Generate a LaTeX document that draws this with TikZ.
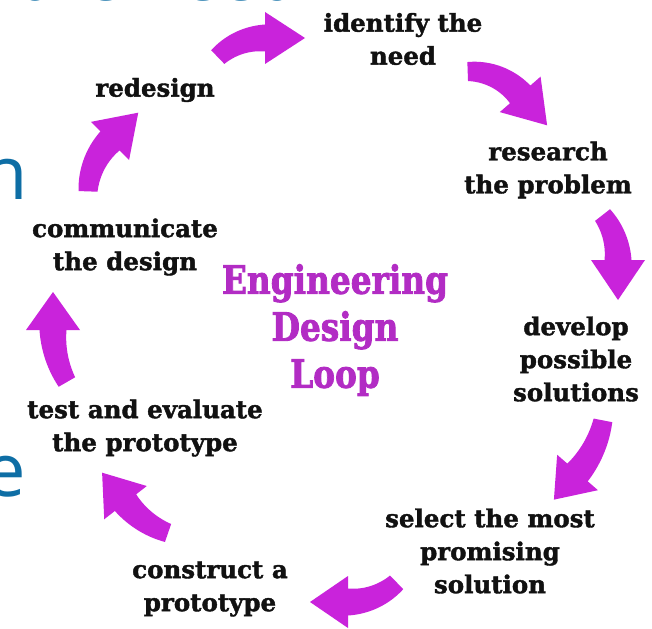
\documentclass[tikz,border=0pt]{standalone}
\usepackage{fontspec}
\setmainfont{DejaVu Serif}
\newfontfamily\slidefont{Open Sans}
\newfontfamily\steplabelfont{DejaVu Serif Bold}[FakeBold=1.6]
\newfontfamily\looptitlefont{DejaVu Serif Bold}[FakeBold=2.2]

\definecolor{loopmagenta}{HTML}{C923DB}
\definecolor{titlemagenta}{HTML}{B22CC4}
\definecolor{labelblack}{HTML}{111111}
\definecolor{slideblue}{HTML}{0E6EA5}

% tail and head-end widths of the curved arrow bodies
\def\wtail{19}
\def\whead{27}

% curved block arrow running clockwise round centre (#1,#2):
% radius #3, from angle #4 to angle #5, head length #6, head half-width #7
\newcommand{\loopArrow}[7]{%
  \fill[loopfill]
    plot[domain=#4:#5, samples=24]
      ({#1+(#3+(\wtail+(\whead-\wtail)*((#4)-(\x))/((#4)-(#5)))/2)*cos(\x)},
       {#2+(#3+(\wtail+(\whead-\wtail)*((#4)-(\x))/((#4)-(#5)))/2)*sin(\x)})
    -- ({#1+(#3+#7)*cos(#5)}, {#2+(#3+#7)*sin(#5)})
    -- ({#1+#3*cos(#5)+#6*cos((#5)-90)}, {#2+#3*sin(#5)+#6*sin((#5)-90)})
    -- ({#1+(#3-#7)*cos(#5)}, {#2+(#3-#7)*sin(#5)})
    -- plot[domain=#5:#4, samples=24]
      ({#1+(#3-(\wtail+(\whead-\wtail)*((#4)-(\x))/((#4)-(#5)))/2)*cos(\x)},
       {#2+(#3-(\wtail+(\whead-\wtail)*((#4)-(\x))/((#4)-(#5)))/2)*sin(\x)})
    -- cycle;
}

\tikzset{
  steplabel/.style={font=\steplabelfont\fontsize{24.5}{33}\selectfont,
    align=center, inner sep=0pt, text=labelblack},
  looptitle/.style={font=\looptitlefont\fontsize{39}{47}\selectfont,
    align=center, inner sep=0pt, text=titlemagenta},
  slidetext/.style={font=\slidefont\fontsize{74}{90}\selectfont,
    inner sep=0pt, text=slideblue},
  loopfill/.style={fill=loopmagenta},
}

\begin{document}
\begin{tikzpicture}[x=1pt,y=1pt]
  \useasboundingbox (0,0) rectangle (652,-628);
  \fill[white] (0,0) rectangle (652,-628);
  \clip (0,0) rectangle (652,-628);

  % slide text behind the loop
  \node[slidetext, anchor=base west] (slidetitle) at (18,-1) {\scalebox{0.92}[1]{the need}};
  \node[slidetext, anchor=base east] (slideN) at (28,-200) {n};
  \node[slidetext, anchor=base east] (slideE) at (26,-496) {e};

  % steps of the loop
  \node[steplabel] (identify)    at (403,-39)  {identify the\\need};
  \node[steplabel] (research)    at (548,-170) {research\\the problem};
  \node[steplabel] (develop)     at (576,-359) {develop\\possible\\solutions};
  \node[steplabel] (select)      at (490,-551) {select the most\\promising\\solution};
  \node[steplabel] (construct)   at (210,-589) {construct a\\prototype};
  \node[steplabel] (test)        at (145,-428) {test and evaluate\\the prototype};
  \node[steplabel] (communicate) at (125,-247) {communicate\\the design};
  \node[steplabel] (redesign)    at (155,-90)  {redesign};

  % title in the middle
  \node[looptitle] (title) at (335,-330)
    {\scalebox{0.84}[1]{Engineering}\\\scalebox{0.84}[1]{Design}\\\scalebox{0.84}[1]{Loop}};

  % arrows between the steps
  \loopArrow{265}{-106}{68}{134}{90}{40}{26}     % redesign -> identify
  \loopArrow{470}{-138}{66.5}{92}{41}{41}{27}    % identify -> research
  \loopArrow{545}{-260}{73}{38}{0}{40}{27}       % research -> develop
  \loopArrow{493}{-399}{112}{-11}{-41}{36}{27}   % develop -> select
  \loopArrow{348}{-532}{70}{-46}{-90}{38}{26}    % select -> construct
  \loopArrow{198}{-446}{92}{-109}{-142}{38}{27}  % construct -> test
  \loopArrow{157}{-330}{104}{-150}{-180}{38}{27} % test -> communicate
  \loopArrow{163}{-194}{75}{178}{135}{40}{27}    % communicate -> redesign
\end{tikzpicture}
\end{document}
